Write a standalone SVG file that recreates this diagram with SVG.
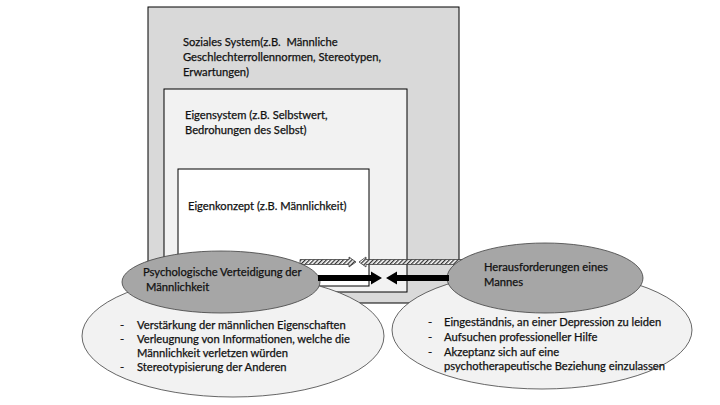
<svg xmlns="http://www.w3.org/2000/svg" width="720" height="405" viewBox="0 0 720 405">
<defs>
<style>
.t{font-family:Lato,"Liberation Sans",sans-serif;font-size:11.2px;fill:#111;stroke:#111;stroke-width:0.25px;}
.box{stroke:#000;stroke-width:1;}
.big{fill:#f2f2f2;stroke:#404040;stroke-width:0.8;}
.grey{fill:#a6a6a6;stroke:#404040;stroke-width:0.8;}
.hatch{fill:url(#hp);stroke:#404040;stroke-width:0.8;}
.blk{fill:#000;}
</style>
<pattern id="hp" width="3" height="3" patternUnits="userSpaceOnUse" patternTransform="rotate(45)">
<rect width="3" height="3" fill="#fff"/>
<rect width="1.3" height="3" fill="#333"/>
</pattern>
</defs>
<rect width="720" height="405" fill="#fff"/>
<g id="soziales-system">
<rect class="box" x="148" y="7" width="311" height="296" fill="#d9d9d9"/>
<text class="t" x="183" y="46" xml:space="preserve">Soziales System(z.B.  Männliche</text>
<text class="t" x="183" y="61">Geschlechterrollennormen, Stereotypen,</text>
<text class="t" x="183" y="76">Erwartungen)</text>
</g>
<g id="eigensystem">
<rect class="box" x="164" y="89" width="243" height="203" fill="#f2f2f2"/>
<text class="t" x="185" y="119">Eigensystem (z.B. Selbstwert,</text>
<text class="t" x="185" y="134">Bedrohungen des Selbst)</text>
</g>
<g id="eigenkonzept">
<rect class="box" x="178" y="169" width="191" height="117" fill="#fff"/>
<text class="t" x="188" y="210">Eigenkonzept (z.B. Männlichkeit)</text>
</g>
<g id="connectors-hatched">
<polygon class="hatch" points="300,259.5 349,259.5 349,257 356,262 349,267 349,264.5 300,264.5"/>
<polygon class="hatch" points="470,259.5 366,259.5 366,257 359,262 366,267 366,264.5 470,264.5"/>
</g>
<g id="verteidigung-liste">
<ellipse class="big" cx="233" cy="336" rx="151" ry="61"/>
<text class="t" x="120" y="329">-</text>
<text class="t" x="137" y="329">Verstärkung der männlichen Eigenschaften</text>
<text class="t" x="120" y="343">-</text>
<text class="t" x="137" y="343">Verleugnung von Informationen, welche die</text>
<text class="t" x="137" y="357">Männlichkeit verletzen würden</text>
<text class="t" x="120" y="371">-</text>
<text class="t" x="137" y="371">Stereotypisierung der Anderen</text>
</g>
<g id="herausforderungen-liste">
<ellipse class="big" cx="542" cy="330" rx="150" ry="59"/>
<text class="t" x="428" y="326">-</text>
<text class="t" x="444" y="326">Eingeständnis, an einer Depression zu leiden</text>
<text class="t" x="428" y="341">-</text>
<text class="t" x="444" y="341">Aufsuchen professioneller Hilfe</text>
<text class="t" x="428" y="356">-</text>
<text class="t" x="444" y="356">Akzeptanz sich auf eine</text>
<text class="t" x="444" y="370">psychotherapeutische Beziehung einzulassen</text>
</g>
<g id="psychologische-verteidigung">
<ellipse class="grey" cx="221" cy="282" rx="99" ry="31"/>
<text class="t" x="143" y="276">Psychologische Verteidigung der</text>
<text class="t" x="146" y="291">Männlichkeit</text>
</g>
<g id="herausforderungen">
<ellipse class="grey" cx="545" cy="278" rx="98" ry="35"/>
<text class="t" x="484" y="271">Herausforderungen eines</text>
<text class="t" x="484" y="286">Mannes</text>
</g>
<g id="connectors">
<polygon class="blk" points="318,275 371,275 371,271.5 382,278 371,284.5 371,281 318,281"/>
<polygon class="blk" points="449,275 397,275 397,271.5 386,278 397,284.5 397,281 449,281"/>
</g>
</svg>
